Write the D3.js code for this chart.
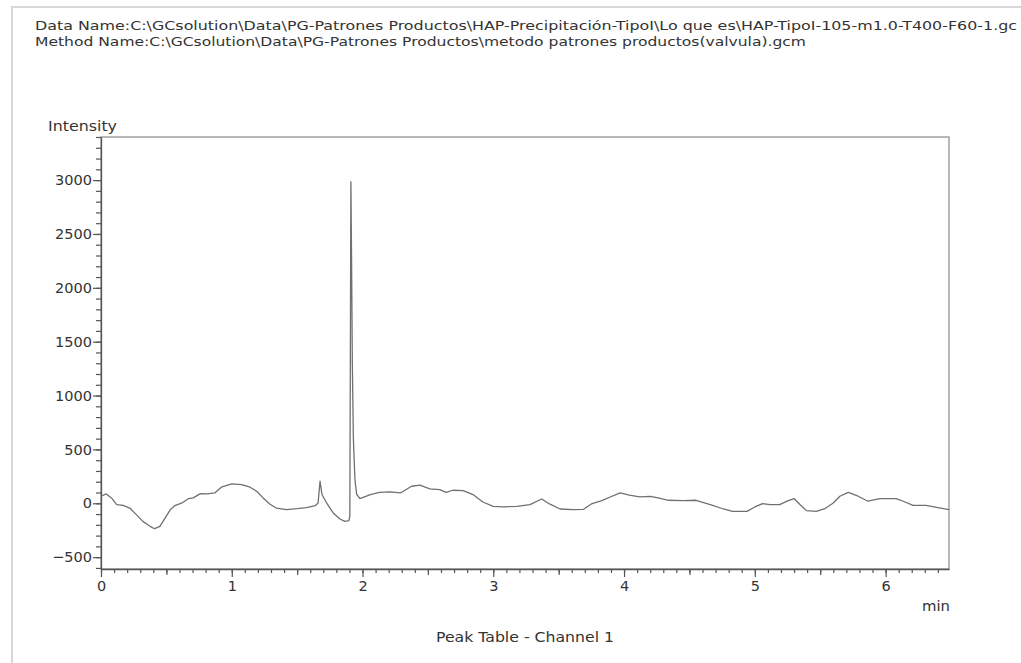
<!DOCTYPE html>
<html>
<head>
<meta charset="utf-8">
<script src="https://cdn.jsdelivr.net/npm/d3@7"></script>
<style>
  body { margin: 0; background: #fff; }
  text { font-family: "DejaVu Sans", Verdana, sans-serif; fill: #333; }
</style>
</head>
<body>
<svg id="chart" width="1021" height="663"></svg>
<script>
// header / labels
var dataName = "Data Name:C:\\GCsolution\\Data\\PG-Patrones Productos\\HAP-Precipitación-TipoI\\Lo que es\\HAP-TipoI-105-m1.0-T400-F60-1.gc";
var methodName = "Method Name:C:\\GCsolution\\Data\\PG-Patrones Productos\\metodo patrones productos(valvula).gcm";
var yTitle = "Intensity", xTitle = "min", footer = "Peak Table - Channel 1";

// chromatogram trace
var timeMin = [0.00, 0.04, 0.08, 0.12, 0.17, 0.22, 0.27, 0.32, 0.375, 0.41, 0.45, 0.49, 0.53, 0.565,
  0.62, 0.67, 0.705, 0.76, 0.81, 0.87, 0.92, 1.00, 1.075, 1.14, 1.19, 1.24, 1.29, 1.34, 1.42,
  1.50, 1.57, 1.64, 1.66, 1.675, 1.69, 1.725, 1.776, 1.827, 1.865, 1.896, 1.903, 1.907, 1.911,
  1.916, 1.922, 1.930, 1.942, 1.955, 1.98, 2.06, 2.13, 2.21, 2.29, 2.375, 2.44, 2.515, 2.59,
  2.64, 2.69, 2.77, 2.845, 2.92, 3.00, 3.076, 3.18, 3.28, 3.37, 3.43, 3.51, 3.61, 3.69, 3.75,
  3.83, 3.89, 3.97, 4.04, 4.12, 4.20, 4.26, 4.34, 4.45, 4.55, 4.66, 4.76, 4.83, 4.94, 5.00,
  5.06, 5.115, 5.19, 5.255, 5.30, 5.345, 5.395, 5.47, 5.535, 5.60, 5.65, 5.715, 5.78, 5.865,
  5.955, 6.08, 6.135, 6.21, 6.31, 6.39, 6.485];
var intensity = [65, 87, 50, -12, -19, -44, -105, -168, -214, -236, -214, -137, -59, -21,
  3, 44, 50, 90, 87, 96, 149, 180, 174, 149, 112, 50, -6, -44, -59,
  -50, -40, -21, 3, 205, 81, 3, -90, -146, -168, -161, -120, 1400, 2985,
  2300, 1300, 600, 220, 84, 44, 81, 102, 105, 96, 158, 168, 133, 127,
  102, 121, 118, 81, 12, -28, -34, -28, -12, 40, -6, -53, -59, -56, -6,
  25, 56, 96, 75, 59, 65, 50, 28, 25, 28, -12, -53, -75, -75, -34,
  -3, -12, -12, 25, 44, -12, -68, -75, -50, 3, 65, 102, 72, 19,
  44, 44, 19, -19, -19, -37, -59];

var xTickLabels = [0, 1, 2, 3, 4, 5, 6];
var yTickLabels = [-500, 0, 500, 1000, 1500, 2000, 2500, 3000];

var svg = d3.select("#chart"),
    margin = {top: 137, right: 72, bottom: 94, left: 101},
    width = +svg.attr("width") - margin.left - margin.right,
    height = +svg.attr("height") - margin.top - margin.bottom;

// page frame
svg.append("path")
    .attr("d", "M12,700 V7 H1030")
    .attr("fill", "none")
    .attr("stroke", "#d8d8d8")
    .attr("stroke-width", 2);

svg.append("text").attr("x", 35).attr("y", 30)
    .attr("font-size", 13).attr("textLength", 982).attr("lengthAdjust", "spacingAndGlyphs")
    .text(dataName);
svg.append("text").attr("x", 35).attr("y", 46)
    .attr("font-size", 13).attr("textLength", 771).attr("lengthAdjust", "spacingAndGlyphs")
    .text(methodName);

var g = svg.append("g").attr("transform", "translate(" + margin.left + "," + margin.top + ")");

var x = d3.scaleLinear().domain([0, 6.485]).range([0, width]);
var y = d3.scaleLinear().domain([-610, 3400]).range([height, 0]);

// frame
g.append("rect")
    .attr("width", width).attr("height", height)
    .attr("fill", "none").attr("stroke", "#888").attr("stroke-width", 1.2);

// minor ticks
g.append("g")
    .attr("transform", "translate(0," + height + ")")
    .call(d3.axisBottom(x).tickValues(d3.range(0, 65).map(function(i) { return i / 10; }))
      .tickSize(4).tickFormat(""))
    .call(function(a) { a.select(".domain").remove(); });
g.append("g")
    .attr("transform", "translate(0," + height + ")")
    .call(d3.axisBottom(x).tickValues([0.5, 1.5, 2.5, 3.5, 4.5, 5.5]).tickSize(6).tickFormat(""))
    .call(function(a) { a.select(".domain").remove(); });
g.append("g")
    .call(d3.axisLeft(y).tickValues(d3.range(-600, 3401, 100)).tickSize(5).tickFormat(""))
    .call(function(a) { a.select(".domain").remove(); });

// major axes
var xAxis = g.append("g")
    .attr("transform", "translate(0," + height + ")")
    .call(d3.axisBottom(x).tickValues(xTickLabels).tickFormat(d3.format("d"))
      .tickSize(8).tickSizeOuter(0).tickPadding(4));
var yAxis = g.append("g")
    .call(d3.axisLeft(y).tickValues(yTickLabels).tickFormat(d3.format("d"))
      .tickSize(8).tickSizeOuter(0).tickPadding(1));

g.selectAll(".tick line").attr("stroke", "#555").attr("stroke-width", 1.2);
g.selectAll(".domain").attr("stroke", "#555").attr("stroke-width", 1.3);
g.selectAll(".tick text").attr("font-size", 14.5).attr("fill", "#333")
    .attr("font-family", "DejaVu Sans, Verdana, sans-serif");

// trace
var pts = timeMin.map(function(t, i) { return [t, intensity[i]]; });
g.append("path")
    .datum(pts)
    .attr("fill", "none")
    .attr("stroke", "#707070")
    .attr("stroke-width", 1.3)
    .attr("stroke-linejoin", "round")
    .attr("d", d3.line()
      .x(function(d) { return x(d[0]); })
      .y(function(d) { return y(d[1]); }));

svg.append("text").attr("x", 48).attr("y", 131).attr("font-size", 13.5)
    .attr("textLength", 69).attr("lengthAdjust", "spacingAndGlyphs").text(yTitle);
svg.append("text").attr("x", 922).attr("y", 611).attr("font-size", 14)
    .attr("textLength", 28).attr("lengthAdjust", "spacingAndGlyphs").text(xTitle);
svg.append("text").attr("x", 436).attr("y", 642).attr("font-size", 14)
    .attr("textLength", 178).attr("lengthAdjust", "spacingAndGlyphs").text(footer);
</script>
</body>
</html>
